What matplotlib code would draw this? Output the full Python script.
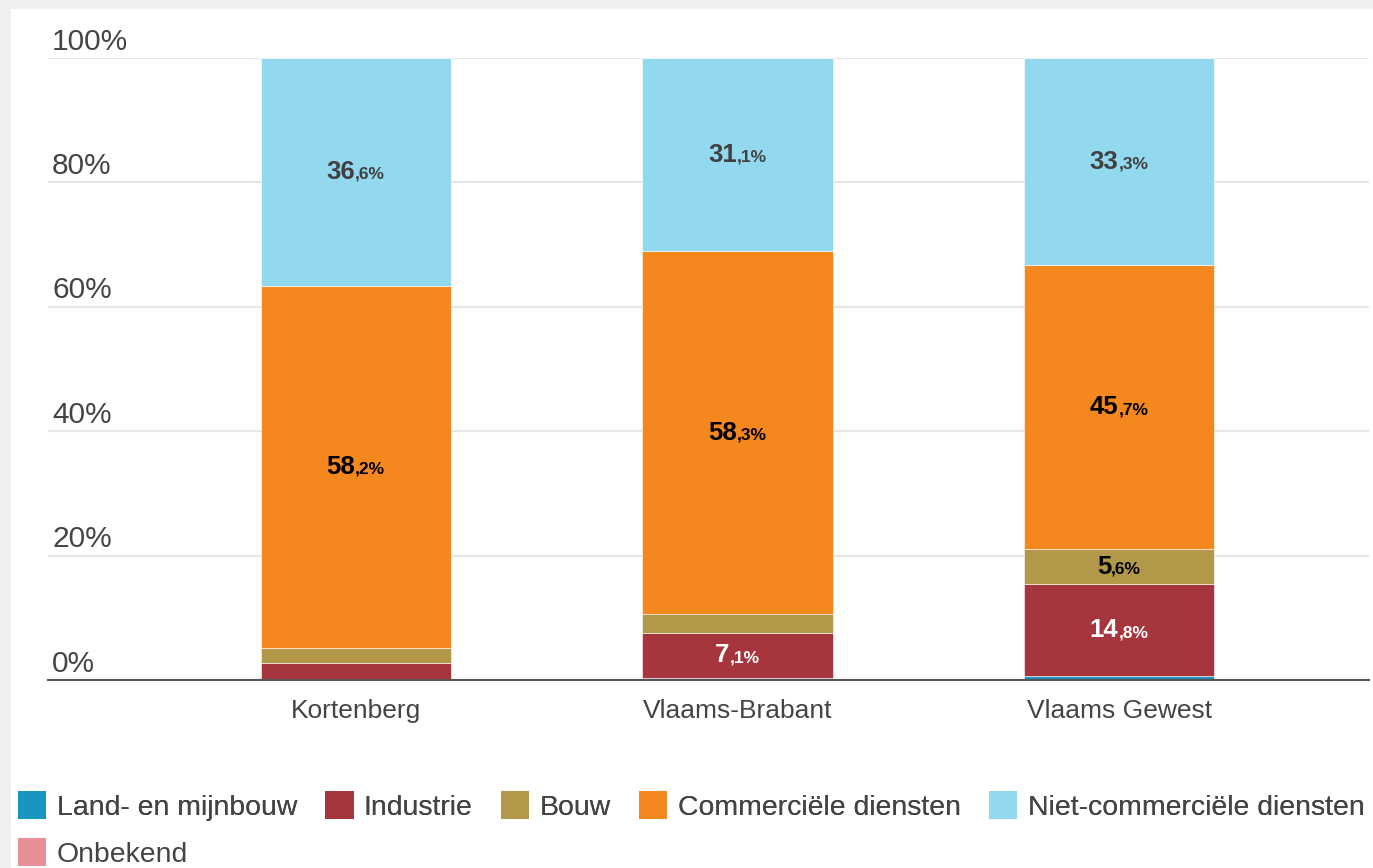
import matplotlib
matplotlib.use("Agg")
import matplotlib.pyplot as plt
from matplotlib.patches import Patch, Rectangle
from matplotlib.offsetbox import TextArea, HPacker, AnnotationBbox
import numpy as np

plt.rcParams['font.family'] = ['Liberation Sans', 'DejaVu Sans']

# Aandeel werkgelegenheid per sector (%)
categories = ['Kortenberg', 'Vlaams-Brabant', 'Vlaams Gewest']
land = [0.0, 0.4, 0.6]
industrie = [2.7, 7.1, 14.8]
bouw = [2.5, 3.1, 5.6]
commercieel = [58.2, 58.3, 45.7]
niet_commercieel = [36.6, 31.1, 33.3]
onbekend = [0.0, 0.0, 0.0]

sector_names = ['Land- en mijnbouw', 'Industrie', 'Bouw', 'Commerciële diensten',
                'Niet-commerciële diensten', 'Onbekend']
sector_values = [land, industrie, bouw, commercieel, niet_commercieel, onbekend]
sector_colors = ['#1a95c2', '#a7353e', '#b3984a', '#f5871f', '#92d9ef', '#e88e96']
label_colors = ['white', 'white', 'black', 'black', '#404040', 'black']

y_ticks = [0, 20, 40, 60, 80, 100]

W, H = 1373, 868
fig = plt.figure(figsize=(W / 100, H / 100), dpi=100)
fig.patch.set_facecolor('#f0f0f0')
fig.patches.append(Rectangle((11 / W, 0), 1 - 11 / W, 1 - 9 / H,
                             transform=fig.transFigure, facecolor='white',
                             edgecolor='none', zorder=-1))

ax = fig.add_axes([48 / W, 1 - 680 / H, 1321 / W, 622 / H])
ax.set_facecolor('none')

x = np.arange(len(categories))
bottom = np.zeros(len(categories))
for name, vals, col, lcol in zip(sector_names, sector_values, sector_colors, label_colors):
    vals = np.array(vals)
    ax.bar(x, vals, width=0.498, bottom=bottom, color=col, edgecolor='#ffffff',
           linewidth=0.4, zorder=3)
    for xi, v, b in zip(x, vals, bottom):
        if v < 5:
            continue
        whole, dec = f"{v:.1f}".split('.')
        big = TextArea(whole, textprops=dict(fontsize=18.5, fontweight='bold', color=lcol))
        small = TextArea(',' + dec + '%', textprops=dict(fontsize=12.5, fontweight='bold', color=lcol))
        box = HPacker(children=[big, small], align='baseline', pad=0, sep=0)
        ab = AnnotationBbox(box, (xi, b + v / 2), frameon=False, box_alignment=(0.5, 0.5),
                            zorder=5)
        ax.add_artist(ab)
    bottom += vals

ax.set_ylim(0, 100)
ax.set_xlim(-0.807, 2.655)
ax.set_yticks(y_ticks)
ax.set_yticklabels([])
ax.tick_params(axis='y', length=0)
ax.grid(axis='y', color='#e6e6e6', linewidth=1.5, zorder=0)
ax.set_axisbelow(True)
for s in ['top', 'left', 'right']:
    ax.spines[s].set_visible(False)
ax.spines['bottom'].set_color('#555555')
ax.spines['bottom'].set_linewidth(1.5)
ax.spines['bottom'].set_zorder(6)

# y-labels staan links boven de rasterlijnen
for t in y_ticks:
    ax.annotate(f"{t}%", xy=(0, t), xycoords=ax.get_yaxis_transform(),
                xytext=(3, 6), textcoords='offset points', ha='left', va='baseline',
                fontsize=21.5, color='#444444')

ax.set_xticks(x)
ax.set_xticklabels(categories, fontsize=19, color='#444444')
ax.tick_params(axis='x', length=0, pad=14)

handles = [Patch(facecolor=c, edgecolor='none') for c in sector_colors]
leg_kw = dict(frameon=False, fontsize=20.4, handlelength=1.0, handleheight=1.15,
              handletextpad=0.36, columnspacing=1.0, borderpad=0, borderaxespad=0,
              labelcolor='#444444', loc='upper left')
leg1 = fig.legend(handles[:5], sector_names[:5], ncol=5,
                  bbox_to_anchor=(18 / W, 1 - 791 / H), **leg_kw)
fig.add_artist(leg1)
fig.legend(handles[5:], sector_names[5:], ncol=1,
           bbox_to_anchor=(18 / W, 1 - 838 / H), **leg_kw)

fig.savefig('out.png', dpi=100, facecolor=fig.get_facecolor())
